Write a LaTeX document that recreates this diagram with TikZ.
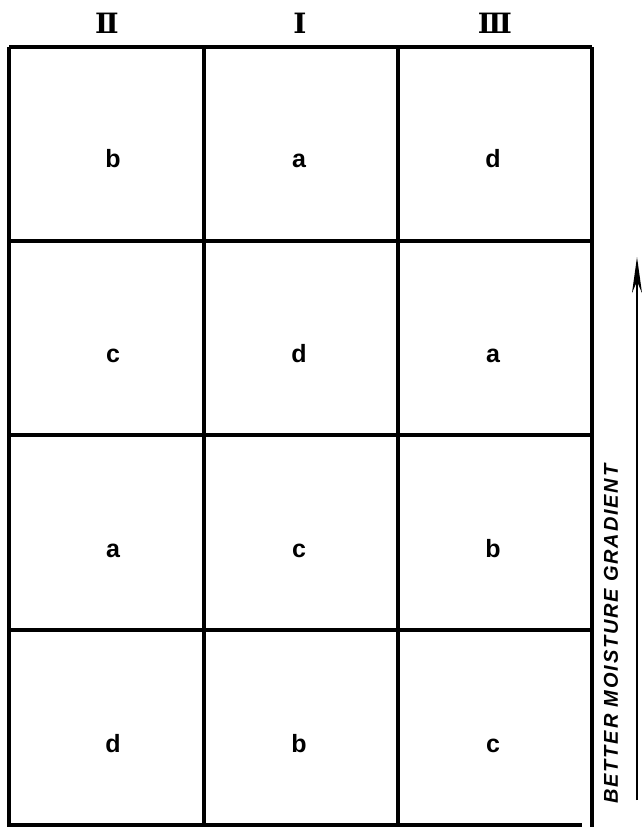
\documentclass[tikz,border=0pt]{standalone}
\usepackage{fontspec}
\setmainfont{Liberation Sans}
\newfontfamily\numfont{DejaVu Serif}
\usetikzlibrary{arrows.meta}
\begin{document}
\begin{tikzpicture}[x=1pt, y=-1pt, >={Stealth[length=36pt,width=10pt]},
    gridline/.style={line width=3.4pt},
    plotlabel/.style={anchor=base, font=\fontsize{25}{25}\selectfont\bfseries},
    blocklabel/.style={anchor=base, font=\numfont\bfseries\fontsize{28}{28}\selectfont}]
    \useasboundingbox (0,0) rectangle (641,827);

    % block headings
    \node[blocklabel] (blockII) at (107,33) {Ⅱ};
    \node[blocklabel] (blockI) at (300,33) {Ⅰ};
    \node[blocklabel] (blockIII) at (495,33) {Ⅲ};

    % plot grid
    \draw[gridline] (9,47) -- (592,47);
    \draw[gridline] (9,241) -- (592,241);
    \draw[gridline] (9,435) -- (592,435);
    \draw[gridline] (9,630) -- (592,630);
    \draw[gridline] (9,825) -- (582,825);
    \draw[gridline] (9,47) -- (9,827);
    \draw[gridline] (204,47) -- (204,827);
    \draw[gridline] (398,47) -- (398,827);
    \draw[gridline] (592,47) -- (592,827);

    % treatments
    \foreach \col/\lab in {113/b, 299/a, 493/d}
        \node[plotlabel] (plotA\col) at (\col,167) {\lab};
    \foreach \col/\lab in {113/c, 299/d, 493/a}
        \node[plotlabel] (plotB\col) at (\col,362) {\lab};
    \foreach \col/\lab in {113/a, 299/c, 493/b}
        \node[plotlabel] (plotC\col) at (\col,557) {\lab};
    \foreach \col/\lab in {113/d, 299/b, 493/c}
        \node[plotlabel] (plotD\col) at (\col,752) {\lab};

    % gradient
    \coordinate (gradtail) at (637,800);
    \coordinate (gradhead) at (637,257);
    \draw[->, line width=2.2pt] (gradtail) -- (gradhead);
    \node[rotate=90, font=\fontsize{20}{20}\selectfont\bfseries\itshape\addfontfeature{LetterSpace=9}]
        (gradtext) at (611,634) {BETTER MOISTURE GRADIENT};
\end{tikzpicture}
\end{document}
